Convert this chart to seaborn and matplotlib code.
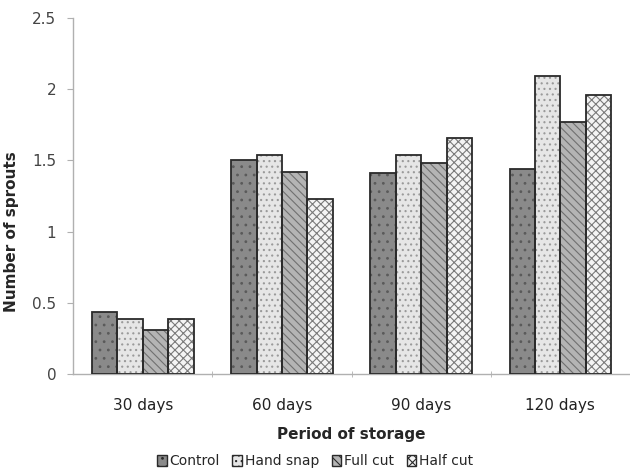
import matplotlib
matplotlib.use("Agg")
import matplotlib.pyplot as plt
import seaborn as sns
import pandas as pd
from matplotlib.patches import Patch

periods = ["30 days", "60 days", "90 days", "120 days"]
treatments = ["Control", "Hand snap", "Full cut", "Half cut"]
control = [0.435, 1.50, 1.41, 1.44]
hand_snap = [0.39, 1.54, 1.54, 2.09]
full_cut = [0.31, 1.42, 1.48, 1.77]
half_cut = [0.39, 1.23, 1.66, 1.96]

rows = []
for name, vals in zip(treatments, [control, hand_snap, full_cut, half_cut]):
    for p, v in zip(periods, vals):
        rows.append({"Period": p, "Treatment": name, "Sprouts": v})
df = pd.DataFrame(rows)

sns.set_style("white")
plt.rcParams["font.family"] = ["DejaVu Sans"]
plt.rcParams["hatch.linewidth"] = 0.8
fig = plt.figure(figsize=(6.3, 4.73), dpi=100)
ax = fig.add_axes([0.116, 0.209, 0.884, 0.753])

faces = ["#8a8a8a", "#e6e6e6", "#b4b4b4", "#f4f4f4"]
hatches = ["..", "...", "\\\\\\\\", "xxxx"]
hatchcols = ["#5a5a5a", "#9a9a9a", "#707070", "#7a7a7a"]

sns.barplot(data=df, x="Period", y="Sprouts", hue="Treatment", order=periods,
            hue_order=treatments, width=0.73, gap=0, ax=ax, legend=False,
            palette=faces, saturation=1)

for cont, fc, h, hc in zip(ax.containers, faces, hatches, hatchcols):
    for bar in cont:
        bar.set_facecolor(fc)
        bar.set_hatch(h)
        bar.set_edgecolor(hc)
        bar.set_linewidth(0)
        x, y = bar.get_x(), bar.get_y()
        w, hgt = bar.get_width(), bar.get_height()
        ax.add_patch(plt.Rectangle((x, y), w, hgt, fill=False,
                                   edgecolor="#2a2a2a", linewidth=1.3, zorder=3))

ax.set_ylim(0, 2.5)
ax.set_yticks([0, 0.5, 1, 1.5, 2, 2.5])
ax.set_yticklabels(["0", "0.5", "1", "1.5", "2", "2.5"])
ax.set_xlim(-0.5, 3.5)
ax.set_xticks([0.5, 1.5, 2.5], minor=True)
for s in ["top", "right"]:
    ax.spines[s].set_visible(False)
for s in ["left", "bottom"]:
    ax.spines[s].set_color("#b0b0b0")
    ax.spines[s].set_linewidth(1.0)
ax.tick_params(axis="y", left=True, length=4, color="#b0b0b0", labelsize=11,
               labelcolor="#444444", pad=8)
ax.tick_params(axis="x", which="major", bottom=False, labelsize=11,
               labelcolor="#222222", pad=14)
ax.tick_params(axis="x", which="minor", bottom=True, length=4, color="#b0b0b0",
               direction="inout")
ax.set_ylabel("Number of sprouts", fontsize=11, fontweight="bold")
ax.yaxis.set_label_coords(-0.097, 0.4)
ax.set_xlabel("Period of storage", fontsize=11, fontweight="bold")
ax.xaxis.set_label_coords(0.5, -0.148)

handles = [Patch(facecolor=fc, hatch=h, edgecolor="#2a2a2a", linewidth=1.0)
           for fc, h in zip(faces, hatches)]
fig.legend(handles, treatments, loc="center", bbox_to_anchor=(0.5, 0.025),
           ncol=4, frameon=False, fontsize=10, handlelength=0.7, handleheight=0.8,
           handletextpad=0.2, columnspacing=0.9)

fig.savefig("out.png", dpi=100)
